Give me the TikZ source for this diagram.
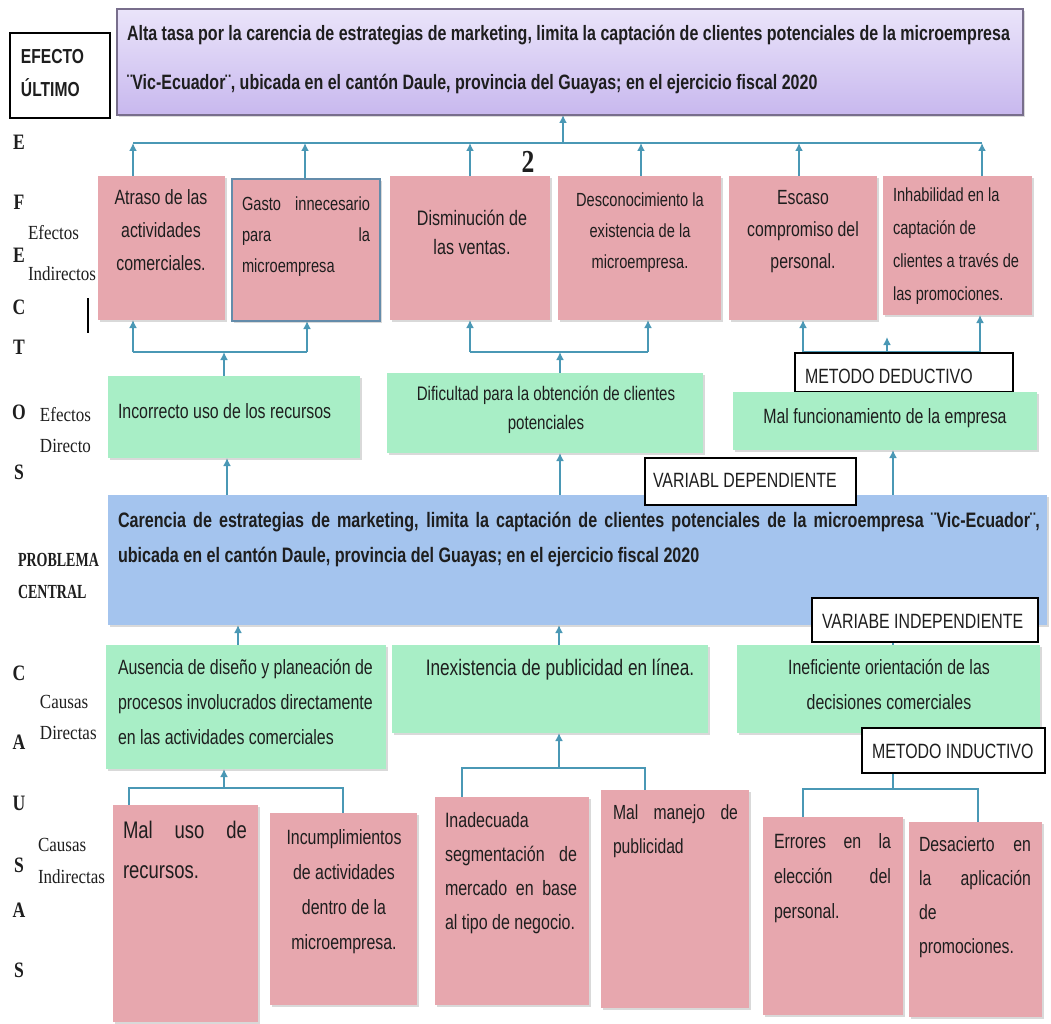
\documentclass[tikz,border=0pt]{standalone}
\usepackage{fontspec}
\setmainfont[FakeStretch=0.77]{Liberation Sans}
\newfontfamily\serifl[FakeStretch=0.8]{Liberation Serif}
\newfontfamily\serifs[FakeStretch=0.85]{Liberation Serif}
\newfontfamily\seriflb[FakeStretch=0.7]{Liberation Serif}
\usetikzlibrary{arrows.meta,shadows,fit}
\definecolor{pinkc}{RGB}{231,167,174}
\definecolor{greenc}{RGB}{168,238,198}
\definecolor{bluec}{RGB}{164,196,238}
\definecolor{purpletop}{RGB}{234,228,250}
\definecolor{purplebot}{RGB}{200,184,238}
\definecolor{connc}{RGB}{74,152,181}
\definecolor{gastob}{RGB}{100,140,170}
\definecolor{textc}{RGB}{30,30,30}
\newcommand\ff[2]{\fontsize{#1}{#2}\selectfont}
\pgfdeclarelayer{bg}
\pgfsetlayers{bg,main}
\begin{document}
\begin{tikzpicture}[x=0.75pt,y=-0.75pt,
  every node/.style={inner sep=0pt, outer sep=0pt, text=textc},
  shd/.style={drop shadow={opacity=0.3, shadow xshift=1.2pt, shadow yshift=-1.6pt}},
  pinkbox/.style={fill=pinkc, shd},
  greenbox/.style={fill=greenc, shd},
  bluebox/.style={fill=bluec, shd},
  purplebox/.style={draw={rgb,255:red,120;green,110;blue,140}, line width=0.8pt, top color=purpletop, bottom color=purplebot, shd},
  lbl/.style={draw=black, line width=1pt, fill=white},
  conn/.style={draw=connc, line width=2pt},
  arr/.style={draw=connc, line width=2pt, -{Latex[length=6pt,width=6pt]}},
  body/.style={font=\ff{15.5}{24.75}},
  side/.style={font=\serifs\ff{15}{16}, anchor=west},
  sideb/.style={font=\seriflb\bfseries\ff{15}{16}, anchor=west},
  big/.style={font=\serifl\bfseries\ff{16.5}{17}}
]
\useasboundingbox (0,0) rectangle (1051,1024);

% ---------- boxes ----------
\node[purplebox, fit={(117,9) (1023,115)}] (top) {};
\node[lbl, fit={(10,33) (110,118)}] (eu) {};

\node[pinkbox, fit={(98,176) (225,320)}] (p1) {};
\node[pinkbox, draw=gastob, line width=1pt, fit={(232,179) (380,321)}] (p2) {};
\node[pinkbox, fit={(390,176) (550,320)}] (p3) {};
\node[pinkbox, fit={(558,176) (721,320)}] (p4) {};
\node[pinkbox, fit={(729,176) (877,320)}] (p5) {};
\node[pinkbox, fit={(883,176) (1032,315)}] (p6) {};

\node[greenbox, fit={(108,376) (360,458)}] (g1) {};
\node[greenbox, fit={(387,373) (703,453)}] (g2) {};

\node[bluebox, fit={(108,495) (1047,625)}] (blue) {};
\node[lbl, fit={(645,458) (856,505)}] (vd) {};

\node[lbl, fit={(795,353) (1013,392)}] (md) {};
\node[greenbox, fit={(733,392) (1037,450)}] (g3) {};

\node[greenbox, fit={(106,645) (386,769)}] (c1) {};
\node[greenbox, fit={(392,645) (708,733)}] (c2) {};
\node[greenbox, fit={(737,645) (1040,733)}] (c3) {};
\node[lbl, fit={(812,598) (1038,642)}] (vi) {};
\node[lbl, fit={(862,728) (1045,773)}] (mi) {};

\node[pinkbox, fit={(113,805) (258,1022)}] (q1) {};
\node[pinkbox, fit={(270,813) (417,1005)}] (q2) {};
\node[pinkbox, fit={(435,797) (589,1005)}] (q3) {};
\node[pinkbox, fit={(601,790) (749,1008)}] (q4) {};
\node[pinkbox, fit={(763,817) (903,1015)}] (q5) {};
\node[pinkbox, fit={(909,822) (1042,1017)}] (q6) {};

% ---------- texts ----------
\node[anchor=north west, align=left, font=\ff{15.6}{36.75}\bfseries] (ttop) at (127,25)
  {Alta tasa por la carencia de estrategias de marketing, limita la captación de clientes potenciales de la microempresa\\
   ¨Vic-Ecuador¨, ubicada en el cantón Daule, provincia del Guayas; en el ejercicio fiscal 2020};
\node[anchor=north west, align=left, font=\ff{15.2}{24.75}\bfseries] (teu) at (21,49) {EFECTO\\ÚLTIMO};

\node[body, anchor=north, align=center] (tp1) at (161,190) {Atraso de las\\actividades\\comerciales.};
\node[body, anchor=north west, align=left, font=\ff{14.25}{23.25}] (tp2) at (242,197)
  {\makebox[96pt][s]{Gasto innecesario}\\\makebox[96pt][s]{para la}\\microempresa};
\node[body, anchor=north, align=center, font=\ff{15.7}{21.75}] (tp3) at (472,210) {Disminución de\\las ventas.};
\node[body, anchor=north, align=center, font=\ff{14.25}{23.25}] (tp4) at (640,193) {Desconocimiento la\\existencia de la\\microempresa.};
\node[body, anchor=north, align=center, font=\ff{15.4}{24}] (tp5) at (803,190) {Escaso\\compromiso del\\personal.};
\node[body, anchor=north west, align=left, font=\ff{14.25}{24.75}] (tp6) at (893,188) {Inhabilidad en la\\captación de\\clientes a través de\\las promociones.};

\node[body, anchor=north west] (tg1) at (118,404) {Incorrecto uso de los recursos};
\node[body, anchor=north, align=center, font=\ff{14.7}{21.75}] (tg2) at (546,386) {Dificultad para la obtención de clientes\\potenciales};
\node[body, anchor=north] (tg3) at (885,409) {Mal funcionamiento de la empresa};

\node[anchor=north west, align=left, font=\ff{15.7}{26.25}\bfseries] (tb) at (118,512)
  {\makebox[691.5pt][s]{Carencia de estrategias de marketing, limita la captación de clientes potenciales de la microempresa ¨Vic-Ecuador¨,}\\
   ubicada en el cantón Daule, provincia del Guayas; en el ejercicio fiscal 2020};

\node[body, anchor=north west, align=left, font=\ff{15.5}{26.25}] (tc1) at (118,659)
  {Ausencia de diseño y planeación de\\procesos involucrados directamente\\en las actividades comerciales};
\node[body, anchor=north, font=\ff{16.8}{20}] (tc2) at (560,659) {Inexistencia de publicidad en línea.};
\node[body, anchor=north, align=center, font=\ff{15.5}{26.25}] (tc3) at (889,659) {Ineficiente orientación de las\\decisiones comerciales};

\node[body, anchor=north west, align=left, font=\ff{18}{30}] (tq1) at (123,821) {\makebox[93pt][s]{Mal uso de}\\recursos.};
\node[body, anchor=north, align=center, font=\ff{15.5}{26.25}] (tq2) at (344,830) {Incumplimientos\\de actividades\\dentro de la\\microempresa.};
\node[body, anchor=north west, align=left, font=\ff{15.6}{25.5}] (tq3) at (445,812)
  {Inadecuada\\\makebox[99pt][s]{segmentación de}\\\makebox[99pt][s]{mercado en base}\\al tipo de negocio.};
\node[body, anchor=north west, align=left, font=\ff{15.3}{25.5}] (tq4) at (613,805) {\makebox[93.75pt][s]{Mal manejo de}\\publicidad};
\node[body, anchor=north west, align=left, font=\ff{15.5}{26.25}] (tq5) at (774,834)
  {\makebox[87.75pt][s]{Errores en la}\\\makebox[87.75pt][s]{elección del}\\personal.};
\node[body, anchor=north west, align=left, font=\ff{15.4}{25.5}] (tq6) at (919,837)
  {\makebox[84pt][s]{Desacierto en}\\\makebox[84pt][s]{la aplicación}\\de\\promociones.};

\node[body, anchor=west] (tvd) at (653,480) {VARIABL DEPENDIENTE};
\node[body, anchor=west] (tvi) at (822,621) {VARIABE INDEPENDIENTE};
\node[body, anchor=west] (tmd) at (805,376) {METODO DEDUCTIVO};
\node[body, anchor=west] (tmi) at (872,751) {METODO INDUCTIVO};

\node[font=\serifl\bfseries\ff{24}{24}] (two) at (528,162) {2};

% side labels
\node[side] (s1) at (28,233) {Efectos};
\node[side] (s2) at (28,274) {Indirectos};
\node[side] (s3) at (40,415) {Efectos};
\node[side] (s4) at (40,446) {Directo};
\node[sideb] (s5) at (18,560) {PROBLEMA};
\node[sideb] (s6) at (18,592) {CENTRAL};
\node[side] (s7) at (40,702) {Causas};
\node[side] (s8) at (40,733) {Directas};
\node[side] (s9) at (38,845) {Causas};
\node[side] (s10) at (38,877) {Indirectas};

\node[big] (l1) at (19,142) {E};
\node[big] (l2) at (19,202) {F};
\node[big] (l3) at (19,255) {E};
\node[big] (l4) at (19,307) {C};
\node[big] (l5) at (19,347) {T};
\node[big] (l6) at (19,412) {O};
\node[big] (l7) at (19,472) {S};
\node[big] (l8) at (19,673) {C};
\node[big] (l9) at (19,742) {A};
\node[big] (l10) at (19,803) {U};
\node[big] (l11) at (19,865) {S};
\node[big] (l12) at (19,910) {A};
\node[big] (l13) at (19,970) {S};

\coordinate (v1) at (88,298);
\coordinate (v2) at (88,333);
\draw[line width=0.8pt] (v1) -- (v2);

% ---------- connectors ----------
\begin{pgfonlayer}{bg}
% top bus
\coordinate (bt0) at (563,143);
\coordinate (bt1) at (133,143);
\coordinate (bt2) at (305,143);
\coordinate (bt3) at (470,143);
\coordinate (bt4) at (641,143);
\coordinate (bt5) at (799,143);
\coordinate (bt6) at (982,143);
\draw[conn] (bt1) -- (bt6);
\draw[arr] (bt0) -- (bt0 |- top.south);
\foreach \c/\b in {bt1/p1, bt2/p2, bt3/p3, bt4/p4, bt5/p5, bt6/p6}
  \draw[arr] (\c |- \b.north) -- (\c);

% effect buses
\coordinate (ba1) at (133,352);
\coordinate (ba2) at (307,352);
\coordinate (ba0) at (224,352);
\draw[conn] (ba1) -- (ba2);
\draw[arr] (ba1) -- (ba1 |- p1.south);
\draw[arr] (ba2) -- (ba2 |- p2.south);
\draw[arr] (ba0 |- g1.north) -- (ba0);

\coordinate (bb1) at (470,352);
\coordinate (bb2) at (648,352);
\coordinate (bb0) at (560,352);
\draw[conn] (bb1) -- (bb2);
\draw[arr] (bb1) -- (bb1 |- p3.south);
\draw[arr] (bb2) -- (bb2 |- p4.south);
\draw[arr] (bb0 |- g2.north) -- (bb0);

\coordinate (bc1) at (803,352);
\coordinate (bc2) at (980,352);
\coordinate (bc0) at (887,337);
\draw[conn] (bc1) -- (bc2);
\draw[arr] (bc1) -- (bc1 |- p5.south);
\draw[arr] (bc2) -- (bc2 |- p6.south);
\draw[arr] (bc0 |- g3.north) -- (bc0);

% central problem to direct effects
\coordinate (x1) at (227,0);
\coordinate (x2) at (560,0);
\coordinate (x3) at (893,0);
\draw[arr] (x1 |- blue.north) -- (x1 |- g1.south);
\draw[arr] (x2 |- blue.north) -- (x2 |- g2.south);
\draw[arr] (x3 |- blue.north) -- (x3 |- g3.south);

% direct causes to central problem
\coordinate (y1) at (238,0);
\coordinate (y2) at (559,0);
\coordinate (y3) at (893,0);
\draw[arr] (y1 |- c1.north) -- (y1 |- blue.south);
\draw[arr] (y2 |- c2.north) -- (y2 |- blue.south);
\draw[arr] (y3 |- c3.north) -- (y3 |- blue.south);

% indirect causes buses
\coordinate (ca1) at (129,788);
\coordinate (ca2) at (343,788);
\coordinate (ca0) at (224,788);
\draw[conn] (ca1 |- q1.north) -- (ca1) -- (ca2) -- (ca2 |- q2.north);
\draw[arr] (ca0) -- (ca0 |- c1.south);

\coordinate (cb1) at (462,768);
\coordinate (cb2) at (645,768);
\coordinate (cb0) at (559,768);
\draw[conn] (cb1 |- q3.north) -- (cb1) -- (cb2) -- (cb2 |- q4.north);
\draw[arr] (cb0) -- (cb0 |- c2.south);

\coordinate (cc1) at (803,789);
\coordinate (cc2) at (978,789);
\coordinate (cc0) at (893,789);
\draw[conn] (cc1 |- q5.north) -- (cc1) -- (cc2) -- (cc2 |- q6.north);
\draw[arr] (cc0) -- (cc0 |- c3.south);
\end{pgfonlayer}
\end{tikzpicture}
\end{document}
